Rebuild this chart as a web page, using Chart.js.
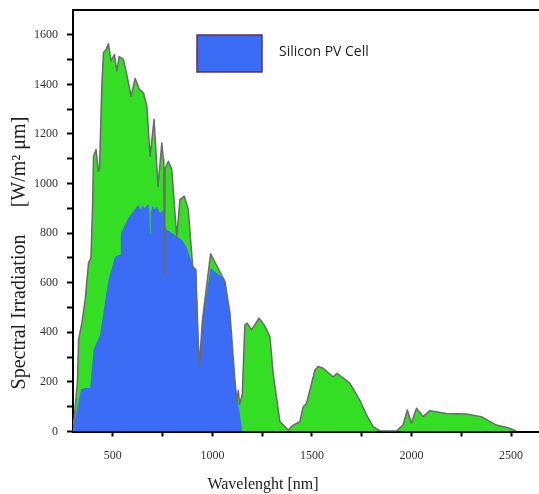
<!DOCTYPE html>
<html>
<head>
<meta charset="utf-8">
<script src="https://cdn.jsdelivr.net/npm/chart.js@4"></script>
<style>
  html, body { margin: 0; padding: 0; background: #fff; }
  #wrap { width: 539px; height: 494px; position: relative; }
</style>
</head>
<body>
<div id="wrap"><canvas id="c" width="539" height="494"></canvas></div>
<script>
// ---- Data ----
const totalWavelength = [300, 310, 322, 328, 345, 361, 378, 390, 398, 403, 416, 427, 433, 445, 453, 466, 478, 491, 508, 520, 532, 553, 575, 592, 612, 633, 654, 671, 687, 707, 721, 727, 746, 754, 756, 759, 762, 779, 796, 815, 821, 837, 859, 879, 901, 915, 934, 950, 991, 1063, 1088, 1113, 1122, 1130, 1137, 1150, 1163, 1175, 1197, 1234, 1260, 1289, 1305, 1339, 1381, 1406, 1439, 1456, 1473, 1515, 1531, 1556, 1606, 1626, 1690, 1740, 1774, 1807, 1840, 1924, 1957, 1979, 1999, 2025, 2058, 2091, 2175, 2275, 2350, 2426, 2484, 2526];
const totalIrradiance = [10, 90, 200, 370, 440, 531, 680, 700, 900, 1110, 1137, 1050, 1060, 1400, 1528, 1541, 1564, 1494, 1521, 1454, 1512, 1501, 1420, 1353, 1424, 1380, 1366, 1312, 1110, 1259, 1070, 989, 1164, 1097, 1080, 632, 1060, 1090, 1057, 850, 787, 935, 949, 895, 666, 650, 262, 450, 717, 605, 478, 208, 125, 165, 110, 150, 430, 437, 410, 457, 430, 383, 235, 40, 6, 26, 40, 100, 114, 248, 262, 255, 221, 235, 195, 127, 67, 20, 3, 2, 26, 87, 33, 94, 60, 84, 73, 71, 60, 26, 15, 2];

const siliconWavelength = [300, 306, 322, 340, 361, 386, 403, 436, 478, 512, 537, 540, 578, 603, 628, 640, 650, 660, 679, 684, 687, 690, 700, 710, 721, 737, 750, 756, 759, 762, 771, 821, 850, 871, 904, 921, 934, 950, 991, 1063, 1088, 1113, 1150];
const siliconIrradiance = [0, 30, 100, 170, 175, 175, 329, 390, 612, 706, 713, 800, 861, 888, 915, 895, 912, 900, 919, 880, 800, 880, 910, 895, 908, 881, 890, 880, 632, 830, 814, 787, 770, 740, 666, 653, 262, 450, 659, 612, 478, 208, 0];

const xMajorTicks = [500, 1000, 1500, 2000, 2500];
const xMinorTicks = [750, 1250, 1750, 2250];
const yMajorTicks = [0, 200, 400, 600, 800, 1000, 1200, 1400, 1600];
const yMinorTicks = [100, 300, 500, 700, 900, 1100, 1300, 1500];

const seriesLabel = 'Silicon PV Cell';
const totalLabel = 'Total spectrum';
const xTitle = 'Wavelenght [nm]';
const yTitleMain = 'Spectral Irradiation';
const yTitleUnit = '[W/m\u00B2 \u03BCm]';

// ---- Build datasets ----
const toPoints = (xs, ys) => xs.map((x, i) => ({ x: x, y: ys[i] }));

const GREEN = 'rgb(52,222,36)';
const BLUE = 'rgb(58,108,246)';

const decorPlugin = {
  id: 'decor',
  afterDraw(chart) {
    const ctx = chart.ctx;
    const a = chart.chartArea;
    ctx.save();
    // top frame line
    ctx.strokeStyle = '#000';
    ctx.lineWidth = 2;
    ctx.beginPath();
    ctx.moveTo(a.left - 1, a.top);
    ctx.lineTo(a.right, a.top);
    ctx.stroke();

    // legend
    ctx.fillStyle = BLUE;
    ctx.fillRect(197, 35, 65, 37);
    ctx.strokeStyle = '#6b2c4f';
    ctx.lineWidth = 1.5;
    ctx.strokeRect(197, 35, 65, 37);
    ctx.fillStyle = '#222';
    ctx.font = '14px "Open Sans"';
    ctx.textAlign = 'left';
    ctx.textBaseline = 'middle';
    ctx.fillText(chart.data.datasets[0].label, 279, 52);

    // x title
    ctx.fillStyle = '#222';
    ctx.font = '16px "Liberation Serif"';
    ctx.textAlign = 'center';
    ctx.textBaseline = 'middle';
    ctx.fillText(xTitle, 263, 485);

    // y title
    ctx.translate(20, 0);
    ctx.rotate(-Math.PI / 2);
    ctx.font = '20px "Liberation Serif"';
    ctx.fillText(yTitleMain, -312, 0);
    ctx.fillText(yTitleUnit, -162, 0);
    ctx.restore();
  }
};

new Chart(document.getElementById('c'), {
  type: 'line',
  data: {
    datasets: [
      {
        label: seriesLabel,
        data: toPoints(siliconWavelength, siliconIrradiance),
        backgroundColor: BLUE,
        borderColor: BLUE,
        borderWidth: 0,
        fill: 'origin',
        pointRadius: 0,
        tension: 0
      },
      {
        label: totalLabel,
        data: toPoints(totalWavelength, totalIrradiance),
        backgroundColor: GREEN,
        borderColor: '#6a6a6a',
        borderWidth: 1.5,
        borderJoinStyle: 'round',
        fill: 'origin',
        pointRadius: 0,
        tension: 0
      }
    ]
  },
  options: {
    responsive: false,
    animation: false,
    layout: { padding: { top: 10, right: 0, left: 0, bottom: 0 } },
    plugins: {
      legend: { display: false },
      tooltip: { enabled: false },
      filler: { drawTime: 'beforeDatasetsDraw' }
    },
    scales: {
      x: {
        type: 'linear',
        min: 300,
        max: 2640,
        z: 1,
        afterBuildTicks: (s) => {
          s.ticks = xMajorTicks.concat(xMinorTicks).sort((p, q) => p - q).map(v => ({ value: v }));
        },
        afterFit: (s) => { s.height = 62.5; s.paddingLeft = 0; s.paddingRight = 0; },
        ticks: {
          autoSkip: false,
          maxRotation: 0,
          padding: 12,
          color: '#333',
          font: { family: '"Liberation Serif"', size: 12 },
          callback: (v) => xMajorTicks.includes(v) ? String(v) : ''
        },
        grid: {
          drawOnChartArea: false,
          drawTicks: true,
          tickLength: 5,
          tickWidth: 2,
          tickColor: '#000'
        },
        border: { display: true, color: '#000', width: 2 }
      },
      y: {
        type: 'linear',
        min: 0,
        max: 1700,
        z: 1,
        afterBuildTicks: (s) => {
          s.ticks = yMajorTicks.concat(yMinorTicks).sort((p, q) => p - q).map(v => ({ value: v }));
        },
        afterFit: (s) => { s.width = 73; s.paddingTop = 0; s.paddingBottom = 0; },
        ticks: {
          autoSkip: false,
          padding: 9,
          color: '#333',
          font: { family: '"Liberation Serif"', size: 12 },
          callback: (v) => yMajorTicks.includes(v) ? String(v) : ''
        },
        grid: {
          drawOnChartArea: false,
          drawTicks: true,
          tickLength: 6,
          tickWidth: 2,
          tickColor: '#000'
        },
        border: { display: true, color: '#000', width: 2 }
      }
    }
  },
  plugins: [decorPlugin]
});
</script>
</body>
</html>
